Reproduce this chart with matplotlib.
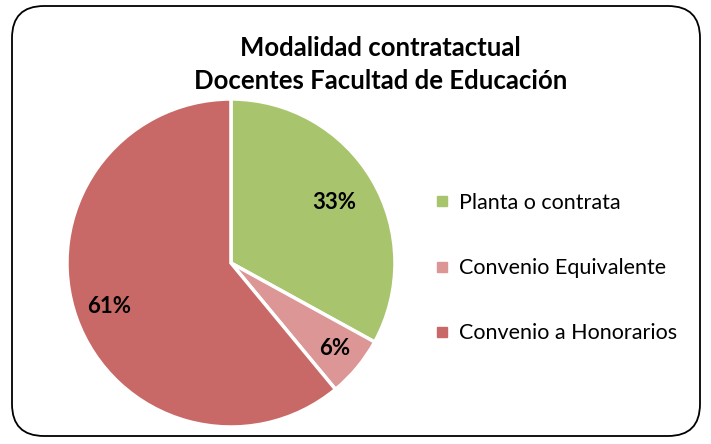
import numpy as np
import matplotlib
matplotlib.use("Agg")
from matplotlib import pyplot as plt
from matplotlib.patches import FancyBboxPatch
from matplotlib.lines import Line2D

TITLE = "Modalidad contratactual\nDocentes Facultad de Educación"
categories = ["Planta o contrata", "Convenio Equivalente", "Convenio a Honorarios"]
values = [33, 6, 61]
colors = ["#A8C46C", "#DB9695", "#C96967"]
label_dist = [0.73, 0.82, 0.79]

plt.rcParams['font.family'] = ['Lato', 'DejaVu Sans']

fig = plt.figure(figsize=(7.11, 4.44), dpi=100)

# marco redondeado
frame = FancyBboxPatch((12 / 711, 8 / 444), 688 / 711, 430 / 444,
                       boxstyle="round,pad=0,rounding_size=0.045",
                       transform=fig.transFigure, facecolor="white",
                       edgecolor="black", linewidth=1.3, mutation_aspect=711 / 444,
                       zorder=-1)
fig.patches.append(frame)

ax = fig.add_axes([0.0942, 0.0383, 0.4613, 0.7387])
wedges, texts, autotexts = ax.pie(values, colors=colors, startangle=90, counterclock=False,
                                  autopct="%1.0f%%", pctdistance=0.73,
                                  wedgeprops={"edgecolor": "white", "linewidth": 2.5},
                                  textprops={"fontsize": 16, "fontweight": "bold"})
# posiciones de etiquetas como en Excel
for w, t, d in zip(wedges, autotexts, label_dist):
    ang = np.deg2rad((w.theta1 + w.theta2) / 2)
    t.set_position((d * np.cos(ang), d * np.sin(ang)))
ax.set_aspect("equal")
ax.set_xlim(-1, 1)
ax.set_ylim(-1, 1)

fig.text(0.535, 0.855, TITLE, ha="center", va="center", fontsize=18.5,
         fontweight="bold", linespacing=1.42)

handles = [Line2D([0], [0], marker="s", linestyle="", markersize=7,
                  markerfacecolor=c, markeredgecolor=c) for c in colors]
fig.legend(handles, categories, loc="center left", bbox_to_anchor=(0.585, 0.396),
           frameon=False, fontsize=15.5, labelspacing=2.1, handlelength=0.6,
           handletextpad=0.5)

plt.savefig("out.png", dpi=100)
